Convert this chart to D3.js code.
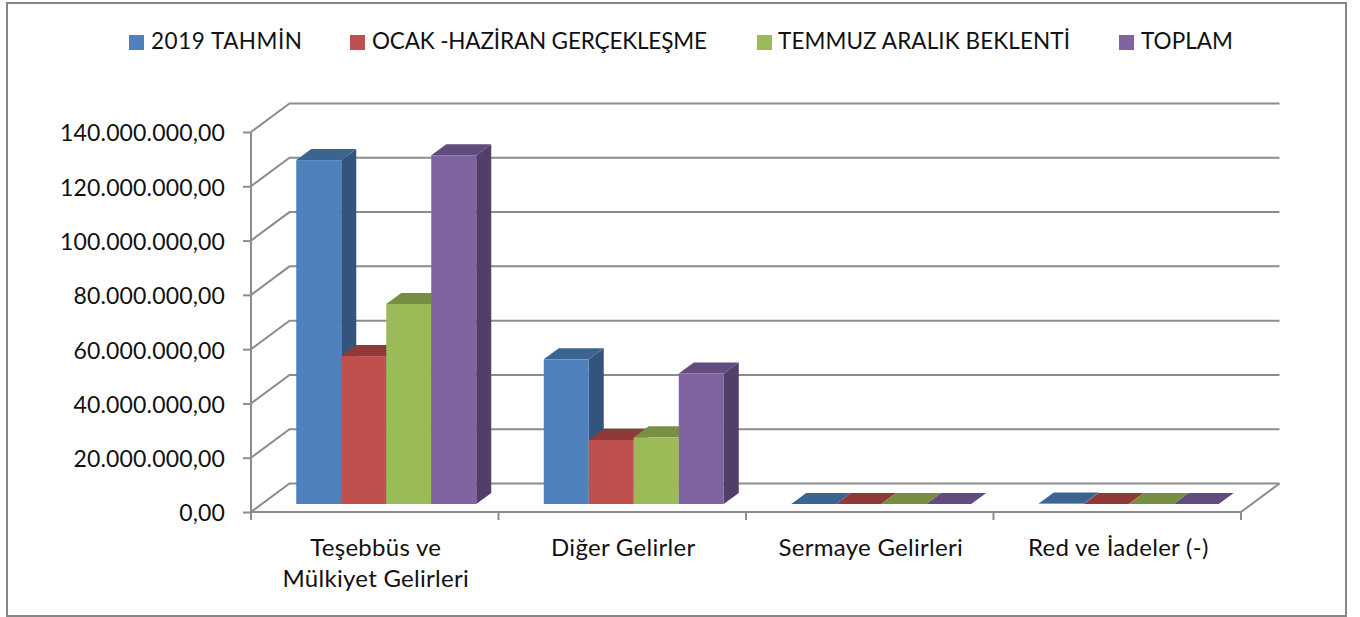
<!DOCTYPE html>
<html><head><meta charset="utf-8">
<script src="https://cdn.jsdelivr.net/npm/d3@7"></script>
<style>html,body{margin:0;padding:0;background:#fff}svg{display:block}text{font-family:Lato,sans-serif;fill:#111}</style>
</head><body><svg id="c" width="1360" height="617"></svg>
<script>
const categories = ["Teşebbüs ve Mülkiyet Gelirleri","Diğer Gelirler","Sermaye Gelirleri","Red ve İadeler (-)"];
const categoryLines = [["Teşebbüs ve","Mülkiyet Gelirleri"],["Diğer Gelirler"],["Sermaye Gelirleri"],["Red ve İadeler (-)"]];
const seriesNames = ["2019 TAHMİN","OCAK -HAZİRAN GERÇEKLEŞME","TEMMUZ ARALIK BEKLENTİ","TOPLAM"];
const tahmin = [126700000,53300000,0,150000];
const ocakHaziran = [54500000,23600000,0,0];
const temmuzAralik = [73700000,24600000,0,0];
const toplam = [128500000,48100000,0,0];
const series = [tahmin,ocakHaziran,temmuzAralik,toplam];
const tickValues = [0,20000000,40000000,60000000,80000000,100000000,120000000,140000000];
const front = ["#4F81BD","#C0504D","#9BBB59","#8064A2"];
const topC = ["#3C6491","#8F3A38","#778F43","#624B7E"];
const sideC = ["#32547D","#7D3230","#65793A","#523E66"];
const legendX = [129,350,757,1119];
const legendTextX = [151,372,778,1141];
const legendTextW = [151,335,292,92];

const svg = d3.select("#c");
const grid = "#8c8c8c";
svg.append("rect").attr("x",7).attr("y",3).attr("width",1339).attr("height",613).attr("fill","#fff").attr("stroke","#868686").attr("stroke-width",2);

const x = d3.scaleBand().domain(categories).range([251,1241]);
const inner = d3.scaleBand().domain(d3.range(4)).range([0,x.bandwidth()]).paddingOuter(0.75).paddingInner(0);
const y = d3.scaleLinear().domain([0,140000000]).range([512,132]);
const depth = {dx:38.5, dy:-28.5};          // wall offset
const base = {dx:11.5, dy:-8}, bar = {dx:15, dy:-11};  // bar placement in depth
const fmt = d3.formatLocale({decimal:",",thousands:".",grouping:[3],currency:["",""]}).format(",.2f");

// gridlines on the side and back walls
const gl = svg.append("g").attr("fill","none").attr("stroke",grid).attr("stroke-width",2);
tickValues.forEach(v=>{
  gl.append("polyline").attr("points",[[251,y(v)],[251+depth.dx,y(v)+depth.dy],[1241+depth.dx,y(v)+depth.dy]].join(" "));
});
gl.append("line").attr("x1",1241).attr("y1",y(0)).attr("x2",1241+depth.dx).attr("y2",y(0)+depth.dy);

// axes
const ay = svg.append("g").attr("transform","translate(251,0)").call(d3.axisLeft(y).tickValues(tickValues).tickFormat(fmt).tickSize(8).tickPadding(18));
const ax = svg.append("g").attr("transform","translate(0,512)").call(d3.axisBottom(x).tickValues([]).tickSize(0));
[ay,ax].forEach(a=>{a.selectAll("path,line").attr("stroke",grid).attr("stroke-width",2);a.select(".domain").attr("stroke",grid)});
ay.selectAll("text").attr("font-size",23).attr("letter-spacing",0.15).attr("dy","0.39em");
ay.select(".domain").attr("d","M0,132V512");
ax.select(".domain").attr("d","M251,0H1241");
svg.append("g").selectAll("line").data(d3.range(5)).join("line")
  .attr("x1",i=>251+i*x.step()).attr("x2",i=>251+i*x.step()).attr("y1",512).attr("y2",520).attr("stroke",grid).attr("stroke-width",2);

// bars
categories.forEach((c,ci)=>{
  const g = svg.append("g");
  series.forEach((s,si)=>{
    const x0 = x(c)+inner(si)+base.dx, x1 = x0+inner.bandwidth();
    const y0 = y(0)+base.dy, yt = y(s[ci])+base.dy;
    const b = g.append("g");
    b.append("polygon").attr("fill",sideC[si]).attr("points",[[x1,yt],[x1+bar.dx,yt+bar.dy],[x1+bar.dx,y0+bar.dy],[x1,y0]].join(" "));
    b.append("polygon").attr("fill",topC[si]).attr("points",[[x0,yt],[x0+bar.dx,yt+bar.dy],[x1+bar.dx,yt+bar.dy],[x1,yt]].join(" "));
    b.append("rect").attr("fill",front[si]).attr("x",x0).attr("y",yt).attr("width",x1-x0).attr("height",y0-yt);
  });
});

// category labels
categories.forEach((c,i)=>{
  const t = svg.append("text").attr("text-anchor","middle").attr("font-size",24).attr("letter-spacing",0.28).attr("y",556);
  categoryLines[i].forEach((l,k)=>t.append("tspan").attr("x",x(c)+x.bandwidth()/2+1).attr("dy",k?31:0).text(l));
});

// legend
const lg = svg.append("g");
seriesNames.forEach((n,i)=>{
  lg.append("rect").attr("x",legendX[i]).attr("y",35).attr("width",15).attr("height",15).attr("fill",front[i]);
  lg.append("text").attr("x",legendTextX[i]).attr("y",49).attr("font-size",22.5)
    .attr("textLength",legendTextW[i]).attr("lengthAdjust","spacing").text(n);
});
</script></body></html>
